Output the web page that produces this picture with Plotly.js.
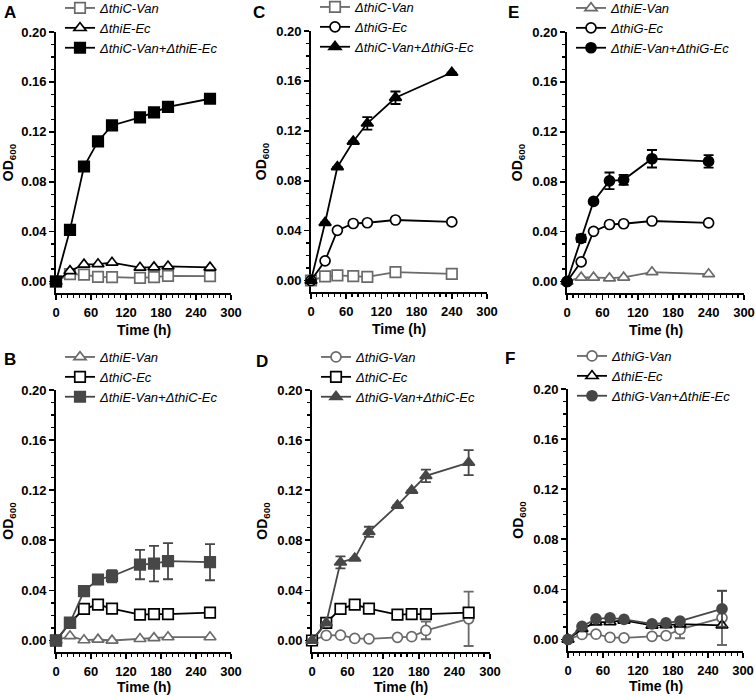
<!DOCTYPE html>
<html>
<head>
<meta charset="utf-8">
<script src="https://cdn.plot.ly/plotly-3.0.1.min.js"></script>
<style>
  html, body { margin: 0; padding: 0; background: #fff; }
  #plotDiv { width: 755px; height: 696px; }
</style>
</head>
<body>
<div id="plotDiv"></div>
<script>
// Sampling times (h)
const timeLong = [0, 24, 48, 72, 96, 144, 168, 192, 264];
const timeShort = [0, 24, 45, 72, 96, 144, 240];

// Panel A
const thiCVanA = [0, 0.006, 0.0056, 0.0037, 0.0035, 0.003, 0.0035, 0.0046, 0.0043];
const thiEEc = [0, 0.0085, 0.0137, 0.014, 0.0152, 0.0112, 0.0115, 0.0122, 0.0113];
const comboA = [0, 0.0414, 0.0922, 0.1123, 0.1251, 0.1316, 0.1356, 0.1400, 0.1465];
const comboAErr = [0, 0, 0, 0, 0, 0, 0, 0.002, 0];

// Panel C
const thiCVanC = [0, 0.0033, 0.0041, 0.0035, 0.003, 0.0068, 0.0053];
const thiGEc = [0, 0.0158, 0.0402, 0.0457, 0.0463, 0.0485, 0.0470];
const comboC = [0, 0.0463, 0.0910, 0.1115, 0.1260, 0.1465, 0.1667];
const comboCErr = [0, 0, 0, 0, 0.005, 0.005, 0];

// Panel E
const thiEVanE = [0, 0.0033, 0.0033, 0.0027, 0.0033, 0.0076, 0.006];
const comboE = [0, 0.0345, 0.0642, 0.0807, 0.0815, 0.0984, 0.0963];
const comboEErr = [0, 0.003, 0, 0.0067, 0.004, 0.007, 0.005];

// Panel B
const thiEVanB = [0, 0.0035, 0.0003, 0.0008, 0, 0.0013, 0.002, 0.0027, 0.0027];
const thiCEc = [0, 0.0141, 0.0253, 0.0287, 0.0254, 0.0206, 0.0210, 0.0210, 0.0222];
const comboB = [0, 0.0141, 0.0394, 0.0487, 0.0513, 0.0606, 0.0614, 0.0633, 0.0625];
const comboBErr = [0, 0, 0, 0.002, 0.0048, 0.0117, 0.0142, 0.0144, 0.0144];

// Panel D
const thiGVan = [0, 0.004, 0.0042, 0.0016, 0.0013, 0.0025, 0.003, 0.008, 0.0173];
const thiGVanErr = [0, 0, 0, 0, 0, 0, 0, 0.007, 0.0217];
const comboD = [0, 0.014, 0.0624, 0.0656, 0.0868, 0.1078, 0.1198, 0.1315, 0.142];
const comboDErr = [0, 0, 0.0048, 0, 0.004, 0, 0, 0.005, 0.01];

// Panel F
const comboF = [0, 0.0104, 0.0165, 0.0173, 0.016, 0.0125, 0.0133, 0.0147, 0.0245];
const comboFErr = [0, 0, 0, 0, 0, 0, 0, 0, 0.0143];

const BLACK = "#000000";
const GRAY = "#6a6a6a";
const DARK = "#474747";
const W = 755, H = 696;

function series(x, y, name, sym, color, filled, axis, legend, err) {
	const t = {
		x: x,
		y: y,
		name: name,
		type: "scatter",
		mode: "lines+markers",
		xaxis: "x" + (axis === 1 ? "" : axis),
		yaxis: "y" + (axis === 1 ? "" : axis),
		legend: legend,
		cliponaxis: false,
		line: { color: color, width: 1.8 },
		marker: {
			symbol: sym,
			size: sym === "circle" ? 10 : 10.5,
			color: filled ? color : "#ffffff",
			line: { color: color, width: 1.7 },
		},
	};
	if (err) {
		t.error_y = { type: "data", array: err, visible: true, color: color, thickness: 1.8, width: 5 };
	}
	return t;
}

const data = [
	// A
	series(timeLong, thiCVanA, "<i>ΔthiC-Van</i>", "square", GRAY, false, 1, "legend"),
	series(timeLong, thiEEc, "<i>ΔthiE-Ec</i>", "triangle-up", BLACK, false, 1, "legend"),
	series(timeLong, comboA, "<i>ΔthiC-Van+ΔthiE-Ec</i>", "square", BLACK, true, 1, "legend", comboAErr),
	// C
	series(timeShort, thiCVanC, "<i>ΔthiC-Van</i>", "square", GRAY, false, 2, "legend2"),
	series(timeShort, thiGEc, "<i>ΔthiG-Ec</i>", "circle", BLACK, false, 2, "legend2"),
	series(timeShort, comboC, "<i>ΔthiC-Van+ΔthiG-Ec</i>", "triangle-up", BLACK, true, 2, "legend2", comboCErr),
	// E
	series(timeShort, thiEVanE, "<i>ΔthiE-Van</i>", "triangle-up", GRAY, false, 3, "legend3"),
	series(timeShort, thiGEc, "<i>ΔthiG-Ec</i>", "circle", BLACK, false, 3, "legend3"),
	series(timeShort, comboE, "<i>ΔthiE-Van+ΔthiG-Ec</i>", "circle", BLACK, true, 3, "legend3", comboEErr),
	// B
	series(timeLong, thiEVanB, "<i>ΔthiE-Van</i>", "triangle-up", GRAY, false, 4, "legend4"),
	series(timeLong, thiCEc, "<i>ΔthiC-Ec</i>", "square", BLACK, false, 4, "legend4"),
	series(timeLong, comboB, "<i>ΔthiE-Van+ΔthiC-Ec</i>", "square", DARK, true, 4, "legend4", comboBErr),
	// D
	series(timeLong, thiGVan, "<i>ΔthiG-Van</i>", "circle", GRAY, false, 5, "legend5", thiGVanErr),
	series(timeLong, thiCEc, "<i>ΔthiC-Ec</i>", "square", BLACK, false, 5, "legend5"),
	series(timeLong, comboD, "<i>ΔthiG-Van+ΔthiC-Ec</i>", "triangle-up", DARK, true, 5, "legend5", comboDErr),
	// F
	series(timeLong, thiGVan, "<i>ΔthiG-Van</i>", "circle", GRAY, false, 6, "legend6", thiGVanErr),
	series(timeLong, thiEEc, "<i>ΔthiE-Ec</i>", "triangle-up", BLACK, false, 6, "legend6"),
	series(timeLong, comboF, "<i>ΔthiG-Van+ΔthiE-Ec</i>", "circle", DARK, true, 6, "legend6", comboFErr),
];

// pixel boxes of each panel: [left, right, top, bottom]
const boxes = [
	[56, 231, 32, 293],
	[311, 487, 31, 292],
	[567, 744, 32, 293],
	[56, 231, 390, 652],
	[312, 490, 390, 652],
	[568, 743, 389, 651],
];
const letters = ["A", "C", "E", "B", "D", "F"];
// where the panel letters sit (px)
const letterPos = [[10, 13], [259, 13], [513, 13], [10, 359], [262, 361], [510, 358]];

const tickFont = { family: "Liberation Sans, Arial, sans-serif", size: 13, color: "#000", weight: "bold" };

const layout = {
	width: W,
	height: H,
	margin: { l: 0, r: 0, t: 0, b: 0, autoexpand: false },
	paper_bgcolor: "#fff",
	plot_bgcolor: "#fff",
	showlegend: true,
	font: { family: "Liberation Sans, Arial, sans-serif", color: "#000" },
	annotations: [],
};

function paperX(px) { return px / W; }
function paperY(px) { return 1 - px / H; }

boxes.forEach((b, i) => {
	const n = i === 0 ? "" : i + 1;
	const legendTop = i < 3 ? b[2] - 39 : b[2] - 48;
	const xTitleY = i < 3 ? b[3] + 37 : b[3] + 35;
	layout["xaxis" + n] = {
		domain: [paperX(b[0]), paperX(b[1])],
		anchor: "y" + n,
		range: [0, 300],
		tick0: 0,
		dtick: 60,
		ticks: "outside",
		ticklen: 5,
		tickwidth: 1.6,
		tickcolor: "#000",
		ticklabelstandoff: 2,
		minor: { dtick: 10, ticks: "outside", ticklen: 3, tickwidth: 1.2, tickcolor: "#000" },
		showline: true,
		linewidth: 1.8,
		linecolor: "#000",
		showgrid: false,
		zeroline: false,
		automargin: false,
		layer: "below traces",
		tickfont: tickFont,
	};
	layout["yaxis" + n] = {
		domain: [paperY(b[3]), paperY(b[2])],
		anchor: "x" + n,
		range: [-0.0092, 0.2],
		tick0: 0,
		dtick: 0.04,
		tickformat: ".2f",
		ticks: "outside",
		ticklen: 5,
		tickwidth: 1.6,
		tickcolor: "#000",
		minor: { dtick: 0.01, ticks: "outside", ticklen: 3, tickwidth: 1.2, tickcolor: "#000" },
		showline: true,
		linewidth: 1.8,
		linecolor: "#000",
		showgrid: false,
		zeroline: false,
		automargin: false,
		layer: "below traces",
		tickfont: tickFont,
		title: { text: "<b>OD<sub>600</sub></b>", font: { size: 14, color: "#000" }, standoff: 6 },
	};
	layout["legend" + n] = {
		x: paperX(b[0] + 4),
		y: paperY(legendTop),
		xanchor: "left",
		yanchor: "top",
		bgcolor: "rgba(0,0,0,0)",
		font: { size: 13, color: "#000" },
		tracegroupgap: 0,
	};
	// x axis title
	layout.annotations.push({
		text: "<b>Time (h)</b>",
		x: paperX((b[0] + b[1]) / 2),
		y: paperY(xTitleY),
		xref: "paper",
		yref: "paper",
		xanchor: "center",
		yanchor: "middle",
		showarrow: false,
		font: { size: 14, color: "#000" },
	});
	// panel letter
	layout.annotations.push({
		text: "<b>" + letters[i] + "</b>",
		x: paperX(letterPos[i][0]),
		y: paperY(letterPos[i][1]),
		xref: "paper",
		yref: "paper",
		xanchor: "center",
		yanchor: "middle",
		showarrow: false,
		font: { size: 17, color: "#000" },
	});
});

Plotly.newPlot("plotDiv", data, layout, { staticPlot: true });
</script>
</body>
</html>
